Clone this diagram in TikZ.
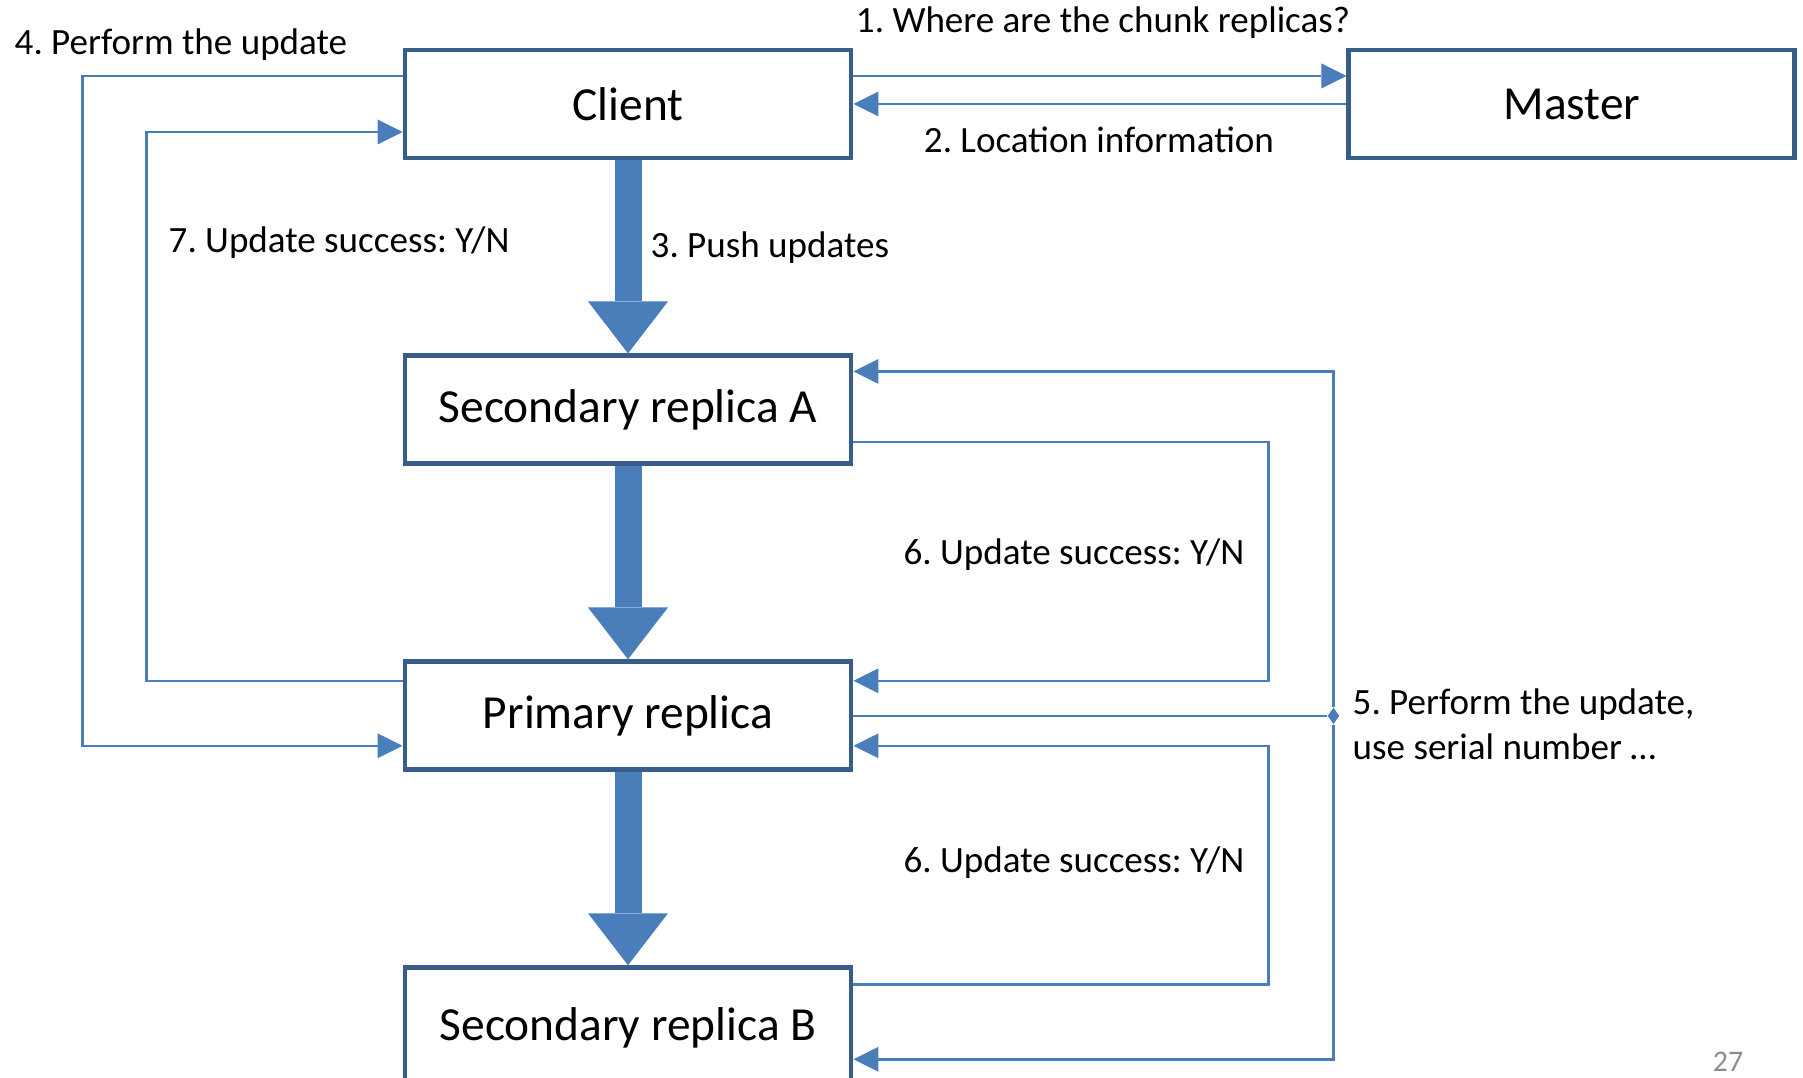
\documentclass[tikz,border=0pt]{standalone}
\usepackage{fontspec}
\setmainfont{Carlito}
\usetikzlibrary{positioning,arrows.meta,shapes.geometric}
\definecolor{boxblue}{HTML}{385D8A}
\definecolor{lineblue}{HTML}{4A7EBB}
\frenchspacing

\begin{document}
\begin{tikzpicture}[box/.style={draw=boxblue,line width=1.4pt,fill=white,rectangle,
        minimum width=4.46cm,minimum height=1.08cm,font=\fontsize{13.5}{16}\selectfont},
    flow/.style={draw=lineblue,line width=0.7pt,-{Triangle[length=0.25cm,width=0.25cm,line width=0pt]}},
    link/.style={draw=lineblue,line width=0.7pt},
    fat/.style={draw=lineblue,line width=0.27cm,-{Triangle[length=0.52cm,width=0.80cm,line width=0pt]}},
    lbl/.style={font=\fontsize{10.55}{12.9}\selectfont,inner sep=0pt}]
    \useasboundingbox (0,0) rectangle (18.03,-10.78);

    % the five boxes
    \node (clnt) [box] at (6.28,-1.04) {Client};
    \node (mstr) [box,right=4.93cm of clnt] {Master};
    \node (seca) [box,below=1.93cm of clnt] {Secondary replica A};
    \node (prim) [box,below=1.93cm of seca] {Primary replica};
    \node (secb) [box,minimum height=1.20cm,below=1.93cm of prim] {Secondary replica B};
    \node (junc) [diamond,fill=lineblue,inner sep=0pt,minimum width=0.12cm,minimum height=0.17cm]
        at ([xshift=4.8cm]prim.east) {};

    % pushing the data down the chain
    \draw[fat] (clnt.south) -- (seca.north);
    \draw[fat] (seca.south) -- (prim.north);
    \draw[fat] (prim.south) -- (secb.north);

    % control messages
    \draw[flow] ([yshift=.28cm]clnt.east) -- ([yshift=.28cm]mstr.west);
    \draw[flow] (mstr.west) -- (clnt.east);
    \draw[flow] ([yshift=.28cm]clnt.west) -- ++(-3.2,0) |- ([yshift=-.30cm]prim.west);
    \draw[flow] ([yshift=.35cm]prim.west) -- ++(-2.56,0) |- ([yshift=-.28cm]clnt.west);
    \draw[link] (prim.east) -- (junc);
    \draw[flow] (junc) |- ([yshift=-.18cm]seca.north east);
    \draw[flow] (junc) |- ([yshift=-.94cm]secb.north east);
    \draw[flow] ([yshift=-.32cm]seca.east) -- ++(4.15,0) |- ([yshift=.35cm]prim.east);
    \draw[flow] ([yshift=-.19cm]secb.north east) -- ++(4.15,0) |- ([yshift=-.30cm]prim.east);

    \node (q1) [lbl] at (11.03,-0.23) {1. Where are the chunk replicas?};
    \node (q2) [lbl] at (10.99,-1.40) {2. Location information};
    \node (q3) [lbl,anchor=west] at (6.50,-2.48) {3. Push updates};
    \node (q4) [lbl,anchor=west] at (0.14,-0.45) {4. Perform the update};
    \node (q5) [lbl,anchor=west,align=left] at (13.52,-7.245) {5. Perform the update,\\use serial number …};
    \node (q6a) [lbl,anchor=east] at (12.45,-5.55) {6. Update success: Y/N};
    \node (q6b) [lbl,anchor=east] at (12.45,-8.63) {6. Update success: Y/N};
    \node (q7) [lbl,anchor=west] at (1.68,-2.43) {7. Update success: Y/N};
    \node (pgno) [font=\fontsize{8.5}{10}\selectfont,text=gray!90,inner sep=0pt] at (17.28,-10.62) {27};
\end{tikzpicture}
\end{document}
